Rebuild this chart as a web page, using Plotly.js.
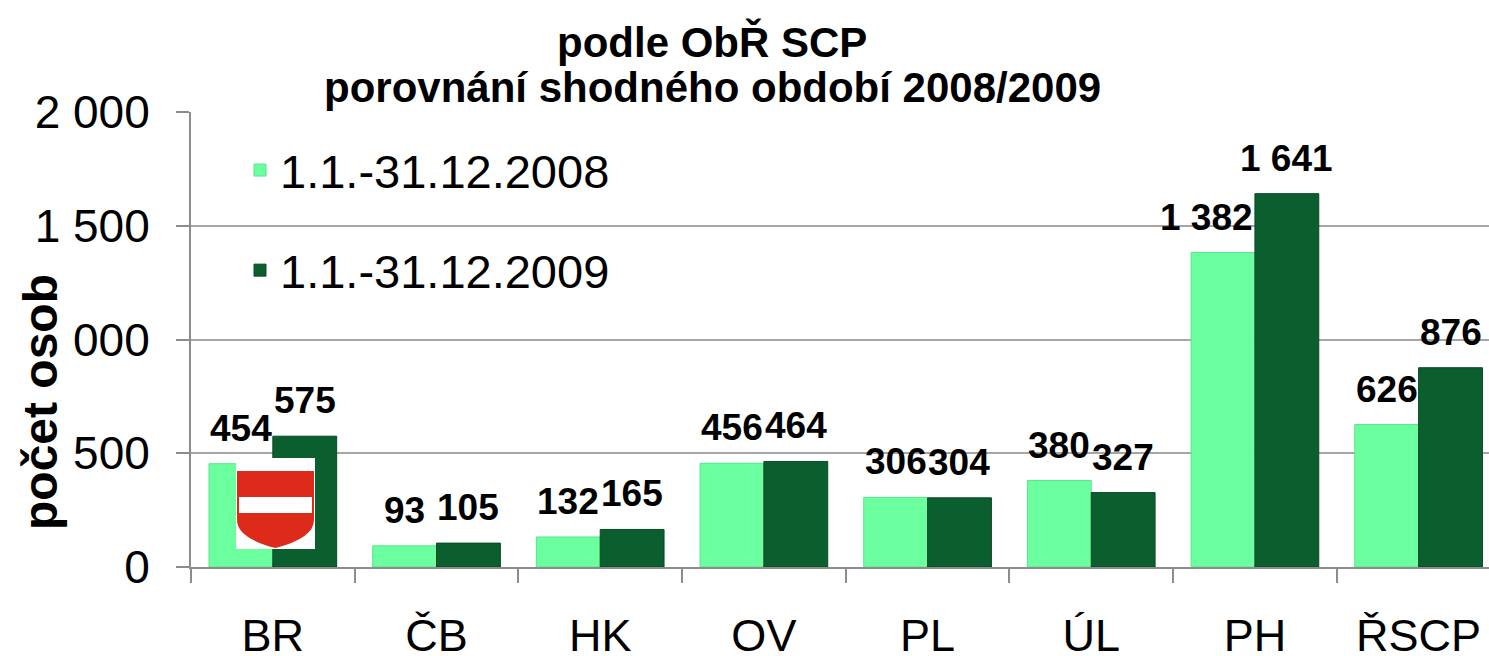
<!DOCTYPE html>
<html>
<head>
<meta charset="utf-8">
<script src="https://cdn.plot.ly/plotly-3.0.1.min.js"></script>
<style>html,body{margin:0;padding:0;background:#fff;}#chart{width:1489px;height:656px;}</style>
</head>
<body>
<div id="chart"></div>
<script>
const categories = ["BR", "ČB", "HK", "OV", "PL", "ÚL", "PH", "ŘSCP"];
const values2008 = [454, 93, 132, 456, 306, 380, 1382, 626];
const values2009 = [575, 105, 165, 464, 304, 327, 1641, 876];
const seriesNames = ["1.1.-31.12.2008", "1.1.-31.12.2009"];
const titleLines = ["podle ObŘ SCP", "porovnání shodného období 2008/2009"];
const yTitle = "počet osob";

const FONT = "Liberation Sans, Arial, sans-serif";
const W = 1489, H = 656;
const M = {l: 191, r: 0, t: 112, b: 89};
const PW = W - M.l - M.r, PH = H - M.t - M.b;
const px = x => (x - M.l) / PW;
const py = y => (H - M.b - y) / PH;
const XR = [-0.5, 7.43];
const BARGAP = 0.22;
const catW = PW / (XR[1] - XR[0]);
const barW = catW * (1 - BARGAP) / 2;

const fmt = v => String(v).replace(/\B(?=(\d{3})+(?!\d))/g, " ");

const traces = [
  {type: "bar", name: seriesNames[0], x: categories, y: values2008, legendgroup: "a",
   marker: {color: "#6cff9f", line: {color: "#57e58d", width: 1}}, hoverinfo: "skip"},
  {type: "bar", name: seriesNames[1], x: categories, y: values2009, legendgroup: "b",
   marker: {color: "#0b5e2d", line: {color: "#084a23", width: 1}}, hoverinfo: "skip"}
];

// value labels drawn on top of all bars
const labelAnns = [];
[values2008, values2009].forEach((vals, s) => {
  vals.forEach((v, i) => {
    const t = fmt(v);
    const wide = s === 0 && t.length > 3;
    labelAnns.push({
      text: "<b>" + t + "</b>", x: i, y: v, xref: "x", yref: "y",
      xshift: s === 0 ? (wide ? 0 : -barW / 2) : barW / 2,
      xanchor: wide ? "right" : "center", yanchor: "bottom", yshift: 13,
      showarrow: false, font: {family: FONT, size: 37, color: "#000"}
    });
  });
});

// Brno emblem (decoration)
const eL = 237, eR = 314, eT = 458, eB = 548, rT = 471, wT = 497, wB = 513;
const eC = (eL + eR) / 2;
const P = (x, y) => px(x).toFixed(5) + "," + py(y).toFixed(5);
const shieldPath = "M" + P(eL, rT) + " L" + P(eR, rT) + " L" + P(eR, 520) +
  " Q" + P(eR, 538) + " " + P(eC, eB) + " Q" + P(eL, 538) + " " + P(eL, 520) + " Z";
const whitePath = "M" + P(eL + 2, wT) + " L" + P(eR - 2, wT) + " L" + P(eR - 2, wB) + " L" + P(eL + 2, wB) + " Z";

const shapes = [
  {type: "rect", xref: "paper", yref: "paper", x0: px(eL - 1), x1: px(eR + 1), y0: py(eB + 1), y1: py(eT),
   fillcolor: "#ffffff", line: {width: 0}, layer: "above"},
  {type: "path", xref: "paper", yref: "paper", path: shieldPath, fillcolor: "#dd2a1b", line: {width: 0}, layer: "above"},
  {type: "path", xref: "paper", yref: "paper", path: whitePath, fillcolor: "#ffffff", line: {width: 0}, layer: "above"}
];

const layout = {
  width: W, height: H,
  margin: M,
  paper_bgcolor: "#fff", plot_bgcolor: "#fff",
  separators: ", ",
  font: {family: FONT, color: "#000"},
  showlegend: true,
  bargap: BARGAP, bargroupgap: 0,
  barmode: "group",
  xaxis: {
    range: XR,
    showline: true, linecolor: "#8c8c8c", linewidth: 2,
    ticks: "outside", tickson: "boundaries", ticklen: 14, tickcolor: "#8c8c8c", tickwidth: 2,
    tickfont: {family: FONT, size: 45, color: "#000"},
    ticklabelstandoff: 28,
    showgrid: false, fixedrange: true
  },
  yaxis: {
    range: [0, 2000],
    tickvals: [0, 500, 1000, 1500, 2000],
    tickformat: ",",
    showline: true, linecolor: "#8c8c8c", linewidth: 2,
    ticks: "outside", ticklen: 13, tickcolor: "#8c8c8c", tickwidth: 2,
    tickfont: {family: FONT, size: 46, color: "#000"},
    ticklabelstandoff: 17,
    showgrid: true, gridcolor: "#a6a6a6", gridwidth: 2,
    zeroline: false, fixedrange: true
  },
  legend: {
    x: px(240), y: py(133), xanchor: "left", yanchor: "top",
    font: {family: FONT, size: 47, color: "#000"},
    bgcolor: "rgba(0,0,0,0)",
    traceorder: "grouped", tracegroupgap: 36,
    itemwidth: 30
  },
  annotations: labelAnns.concat([
    {text: "<b>" + titleLines[0] + "</b>", xref: "paper", yref: "paper", x: px(712), y: py(42),
     xanchor: "center", yanchor: "middle", showarrow: false, font: {family: FONT, size: 42, color: "#000"}},
    {text: "<b>" + titleLines[1] + "</b>", xref: "paper", yref: "paper", x: px(712), y: py(88),
     xanchor: "center", yanchor: "middle", showarrow: false, font: {family: FONT, size: 42, color: "#000"}},
    {text: "<b>" + yTitle + "</b>", xref: "paper", yref: "paper", x: px(40), y: py(402),
     xanchor: "center", yanchor: "middle", textangle: -90, showarrow: false,
     bgcolor: "#ffffff", borderpad: 0, font: {family: FONT, size: 48, color: "#000"}}
  ]),
  shapes: shapes
};

Plotly.newPlot("chart", traces, layout, {displayModeBar: false, staticPlot: true});
</script>
</body>
</html>
